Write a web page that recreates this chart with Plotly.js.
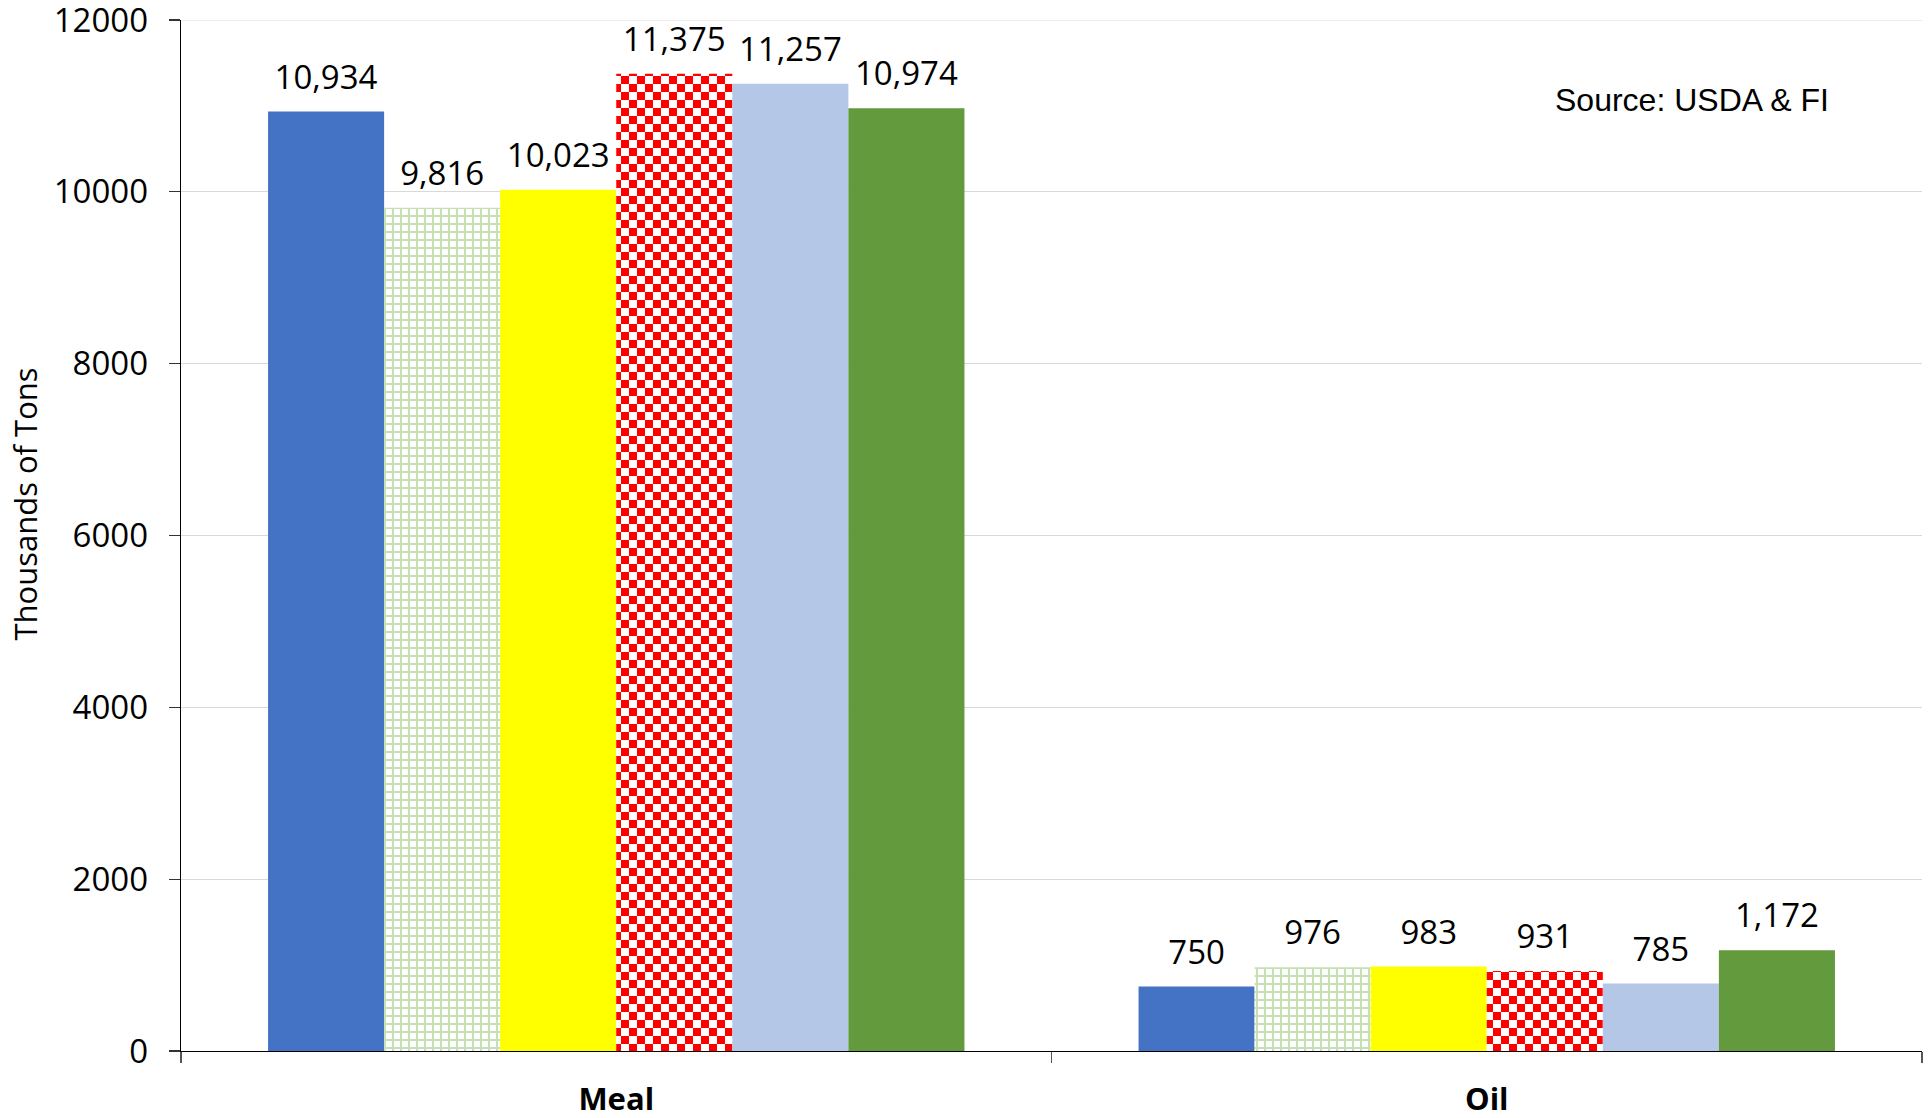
<!DOCTYPE html>
<html>
<head>
<meta charset="utf-8">
<script src="https://cdn.plot.ly/plotly-3.0.1.min.js"></script>
<style>
  html, body { margin: 0; padding: 0; background: #ffffff; }
  #chart { width: 1932px; height: 1118px; }
</style>
</head>
<body>
<div id="chart"></div>
<script>
// ---- data ----
const categories = ["Meal", "Oil"];
const seriesNames = ["Series 1", "Series 2", "Series 3", "Series 4", "Series 5", "Series 6"];
const series1 = [10934, 750];
const series2 = [9816, 976];
const series3 = [10023, 983];
const series4 = [11375, 931];
const series5 = [11257, 785];
const series6 = [10974, 1172];
const yTickVals = [0, 2000, 4000, 6000, 8000, 10000, 12000];
const sourceText = "Source: USDA &amp; FI";
const yTitle = "Thousands of Tons";

const allSeries = [series1, series2, series3, series4, series5, series6];
const colors = ["#4472C4", "#C5E0B4", "#FFFF00", "#FF0000", "#B4C7E7", "#629A3D"];

const FONT = "Open Sans, Noto Sans, sans-serif";

const traces = allSeries.map((vals, i) => {
  const t = {
    type: "bar",
    name: seriesNames[i],
    x: categories,
    y: vals,
    texttemplate: "%{y:,.0f}",
    textposition: "outside",
    textangle: 0,
    cliponaxis: false,
    constraintext: "none",
    textfont: { family: FONT, size: 33, color: "#000000" },
    marker: { color: colors[i], line: { width: 0 } },
    hoverinfo: "x+y+name"
  };
  if (i === 1) {
    t.marker.color = "#ffffff";
    t.marker.pattern = { shape: "+", fgcolor: "#C5E0B4", bgcolor: "#ffffff", size: 8, solidity: 0.45, fillmode: "replace" };
  }
  if (i === 3) {
    t.marker.color = "#ffffff";
    t.marker.pattern = { shape: "x", fgcolor: "#FF0000", bgcolor: "#ffffff", size: 11, solidity: 0.5, fillmode: "replace" };
  }
  return t;
});

const layout = {
  width: 1932,
  height: 1118,
  margin: { l: 181, r: 10, t: 19.5, b: 67, pad: 0 },
  paper_bgcolor: "#ffffff",
  plot_bgcolor: "#ffffff",
  showlegend: false,
  barmode: "group",
  bargap: 0.2,
  bargroupgap: 0,
  font: { family: FONT, size: 32, color: "#000000" },
  xaxis: {
    type: "category",
    showgrid: false,
    showline: true,
    linecolor: "#000000",
    linewidth: 1.3,
    ticks: "outside",
    tickson: "boundaries",
    ticklen: 11,
    tickcolor: "#555555",
    tickwidth: 1.3,
    ticklabelstandoff: 20,
    tickfont: { family: FONT, size: 31, color: "#000000", weight: "bold" },
    zeroline: false
  },
  yaxis: {
    range: [0, 12000],
    tickvals: yTickVals,
    tickformat: "d",
    ticklabeloverflow: "allow",
    showgrid: true,
    gridcolor: "#d9d9d9",
    gridwidth: 1,
    showline: true,
    linecolor: "#000000",
    linewidth: 1.3,
    ticks: "outside",
    ticklen: 11,
    tickcolor: "#333333",
    tickwidth: 1.3,
    ticklabelstandoff: 14,
    tickfont: { family: FONT, size: 33, color: "#000000" },
    zeroline: false
  },
  shapes: [{
    type: "line", xref: "paper", yref: "y",
    x0: 0, x1: 1, y0: 12000, y1: 12000,
    line: { color: "#d9d9d9", width: 1 }, layer: "below"
  }],
  annotations: [{
    xref: "paper", yref: "paper",
    x: 0.788, y: 0.922,
    xanchor: "left", yanchor: "middle",
    text: sourceText,
    showarrow: false,
    font: { family: "Liberation Sans, Arial, sans-serif", size: 32, color: "#000000" }
  }, {
    xref: "paper", yref: "paper",
    x: -0.0896, y: 0.530,
    xanchor: "center", yanchor: "middle",
    textangle: -90,
    text: yTitle,
    showarrow: false,
    font: { family: FONT, size: 31, color: "#000000" }
  }]
};

Plotly.newPlot("chart", traces, layout, { displayModeBar: false, staticPlot: true }).then(gd => {
  const svgNS = "http://www.w3.org/2000/svg";
  const svg = gd.querySelector("svg.main-svg");
  let defs = svg.querySelector("defs");
  if (!defs) { defs = document.createElementNS(svgNS, "defs"); svg.insertBefore(defs, svg.firstChild); }
  const pat = document.createElementNS(svgNS, "pattern");
  pat.setAttribute("id", "checkerRed");
  pat.setAttribute("patternUnits", "userSpaceOnUse");
  pat.setAttribute("width", "16");
  pat.setAttribute("height", "16");
  const mk = (x, y, w, h, c) => {
    const r = document.createElementNS(svgNS, "rect");
    r.setAttribute("x", x); r.setAttribute("y", y);
    r.setAttribute("width", w); r.setAttribute("height", h);
    r.setAttribute("fill", c);
    pat.appendChild(r);
  };
  mk(0, 0, 16, 16, "#ffffff");
  mk(0, 0, 8, 8, "#FF0000");
  mk(8, 8, 8, 8, "#FF0000");
  defs.appendChild(pat);
  const barTraces = gd.querySelectorAll(".barlayer .trace");
  if (barTraces[3]) {
    barTraces[3].querySelectorAll("path").forEach(p => {
      p.style.fill = "url(#checkerRed)";
    });
  }
  // lift the value labels a little further above the bars
  gd.querySelectorAll(".barlayer text.bartext").forEach(t => {
    const tr = t.getAttribute("transform") || "";
    t.setAttribute("transform", "translate(0,-10) " + tr);
  });
});
</script>
</body>
</html>
